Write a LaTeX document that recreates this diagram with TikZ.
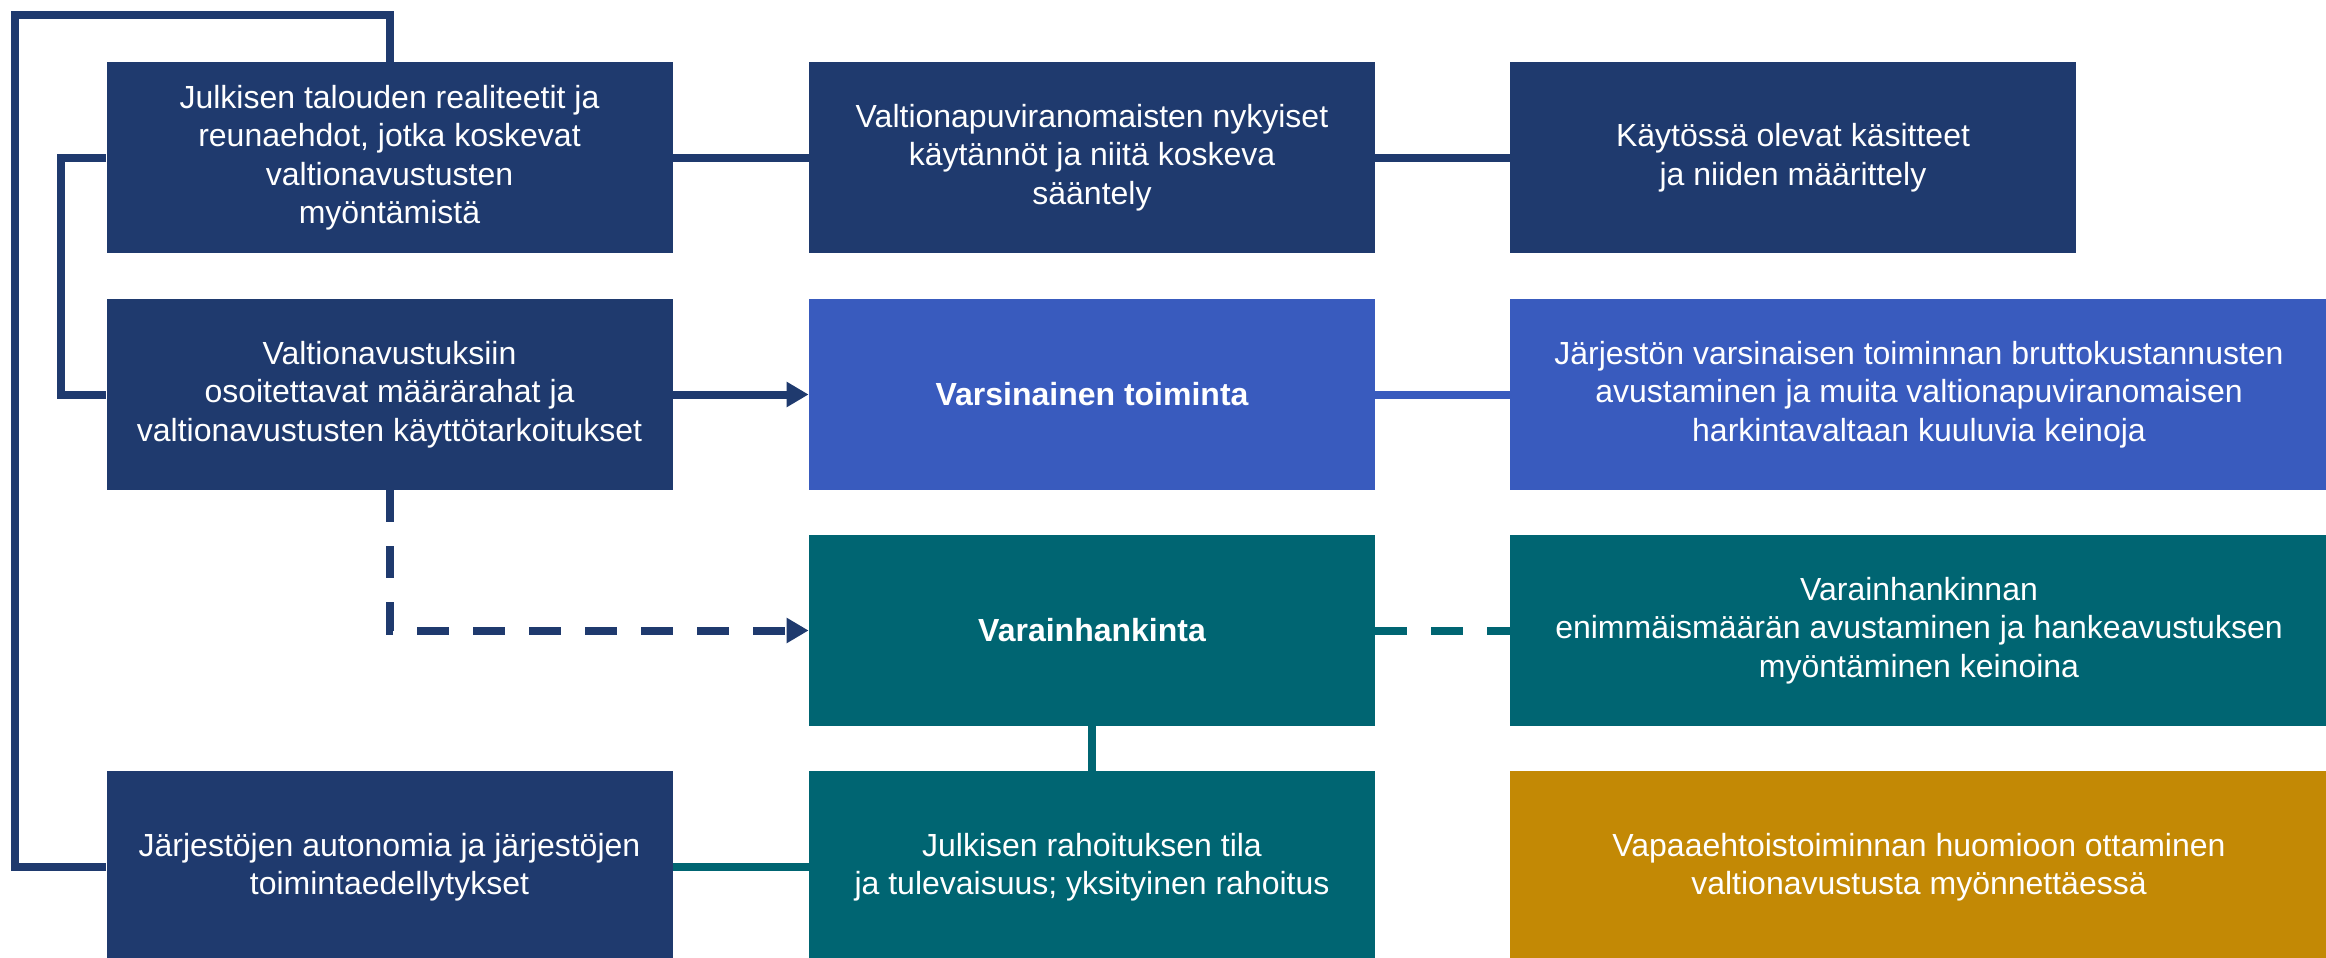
\documentclass[tikz,border=0pt]{standalone}
\usepackage{fontspec}
\setmainfont{Liberation Sans}
\usetikzlibrary{arrows.meta}
\definecolor{navy}{RGB}{31,58,110}
\definecolor{midblue}{RGB}{57,91,190}
\definecolor{tealc}{RGB}{0,101,114}
\definecolor{goldc}{RGB}{195,137,5}
\begin{document}
\begin{tikzpicture}[x=0.5pt,y=-0.5pt,
  box/.style={rectangle, inner sep=0pt, text=white, align=center,
    minimum height=95.5pt, font=\fontsize{16}{19.25}\selectfont},
  narrow/.style={box, minimum width=283pt},
  wide/.style={box, minimum width=409pt},
  conn/.style={line width=4pt, line join=miter},
  dashconn/.style={conn, dash pattern=on 16pt off 12pt},
  arrowed/.style={-{Triangle[length=11pt,width=12pt]}}]
\useasboundingbox (0,0) rectangle (2326,958);
\fill[white] (0,0) rectangle (2326,958);

% column 1
\node[narrow, fill=navy] (n1) at (389.5,157.5)
  {Julkisen talouden realiteetit ja\\reunaehdot, jotka koskevat\\valtionavustusten\\myöntämistä};
\node[narrow, fill=navy] (n2) at (389.5,394.5)
  {Valtionavustuksiin\\osoitettavat määrärahat ja\\valtionavustusten käyttötarkoitukset};
\node[narrow, fill=navy, minimum height=96pt] (n4) at (389.5,867)
  {Järjestöjen autonomia ja järjestöjen\\toimintaedellytykset};

% column 2
\node[narrow, fill=navy] (m1) at (1092,157.5)
  {Valtionapuviranomaisten nykyiset\\käytännöt ja niitä koskeva\\sääntely};
\node[narrow, fill=midblue] (m2) at (1092,394.5)
  {\bfseries Varsinainen toiminta};
\node[narrow, fill=tealc] (m3) at (1092,630.5)
  {\bfseries Varainhankinta};
\node[narrow, fill=tealc, minimum height=96pt] (m4) at (1092,867)
  {Julkisen rahoituksen tila\\ja tulevaisuus; yksityinen rahoitus};

% column 3
\node[narrow, fill=navy] (r1) at (1793,157.5)
  {Käytössä olevat käsitteet\\ja niiden määrittely};
\node[wide, fill=midblue] (r2) at (1919,394.5)
  {Järjestön varsinaisen toiminnan bruttokustannusten\\avustaminen ja muita valtionapuviranomaisen\\harkintavaltaan kuuluvia keinoja};
\node[wide, fill=tealc] (r3) at (1919,630.5)
  {Varainhankinnan\\enimmäismäärän avustaminen ja hankeavustuksen\\myöntäminen keinoina};
\node[wide, fill=goldc, minimum height=96pt] (r4) at (1919,867)
  {Vapaaehtoistoiminnan huomioon ottaminen\\valtionavustusta myönnettäessä};

% connectors
\coordinate (corner) at (14.5,14.5);
\draw[conn, navy] (n4.west) -| (corner) -| (n1.north);
\draw[conn, navy] (n1.west) -- ++(-45,0) |- (n2.west);
\draw[conn, navy] (n1.east) -- (m1.west);
\draw[conn, navy] (m1.east) -- (r1.west);
\draw[conn, navy, arrowed] (n2.east) -- (m2.west);
\draw[dashconn, navy, arrowed] (n2.south) |- (m3.west);
\draw[conn, midblue] (m2.east) -- (r2.west);
\draw[dashconn, tealc] (m3.east) -- (r3.west);
\draw[conn, tealc] (m3.south) -- (m4.north);
\draw[conn, tealc] (n4.east) -- (m4.west);
\end{tikzpicture}
\end{document}
